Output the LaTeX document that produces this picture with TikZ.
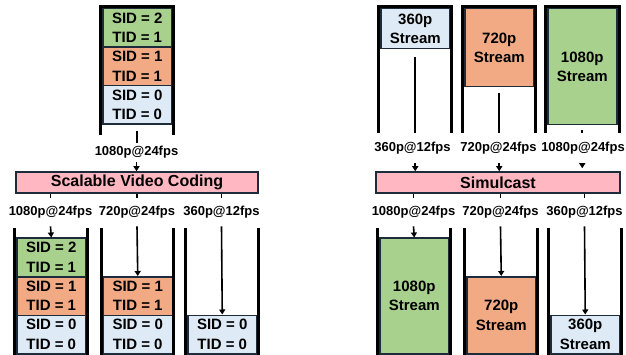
\documentclass[tikz,border=0pt]{standalone}
\usepackage{fontspec}
\setmainfont{Liberation Sans}
\usetikzlibrary{arrows.meta}
\definecolor{sgreen}{HTML}{A9D18E}
\definecolor{sorange}{HTML}{F2AA84}
\definecolor{sblue}{HTML}{DEEBF7}
\definecolor{spink}{HTML}{FFB7C1}
\definecolor{navy}{HTML}{1D2B3A}
\tikzset{
  blk/.style={draw=navy, line width=1.5pt, inner sep=0pt, align=center,
    anchor=north west, minimum width=69pt,
    font=\fontsize{15}{19.5}\selectfont\bfseries},
  codec/.style={draw=navy, line width=1.5pt, fill=spink, inner sep=0pt,
    minimum height=21pt, font=\fontsize{16}{18}\selectfont\bfseries},
  lbl/.style={inner xsep=0pt, inner ysep=8pt, text height=9.5pt, text depth=2.8pt,
    font=\fontsize{13}{15}\selectfont\bfseries},
  wall/.style={line width=3pt, black},
  conn/.style={line width=1.6pt, black},
  arr/.style={conn, -{Triangle[length=5pt,width=6pt]}},
}
\begin{document}
\begin{tikzpicture}[x=1pt, y=-1pt]
\useasboundingbox (0,0) rectangle (626,355);

% ---------------- Scalable Video Coding ----------------
% source stack
\node[blk, fill=sgreen,  minimum height=38.5pt] (s2) at (102,8)     {SID = 2\\TID = 1};
\node[blk, fill=sorange, minimum height=38.5pt] (s1) at (102,46.5)  {SID = 1\\TID = 1};
\node[blk, fill=sblue,   minimum height=38.5pt] (s0) at (102,85)    {SID = 0\\TID = 0};
\draw[wall] (100,135) -- (100,7) -- (173,7) -- (173,135);

\node[lbl, inner ysep=3pt] (sin) at (136.5,152.5) {1080p@24fps};
\node[codec, minimum width=242pt] (svc) at (137,182.5) {Scalable Video Coding};
\draw[conn, shorten <=6.5pt] (s0.south) -- (s0.south |- sin.north);
\draw[arr] (sin.south) -- (sin.south |- svc.north);

% received layers
\node[lbl] (o1) at (50.5,212)  {1080p@24fps};
\node[lbl] (o2) at (137,212)   {720p@24fps};
\node[lbl] (o3) at (221.5,212) {360p@12fps};

\node[blk, fill=sgreen,  minimum height=38.5pt] (a2) at (16,237.5)  {SID = 2\\TID = 1};
\node[blk, fill=sorange, minimum height=38.5pt] (a1) at (16,276)    {SID = 1\\TID = 1};
\node[blk, fill=sblue,   minimum height=38.5pt] (a0) at (16,314.5)  {SID = 0\\TID = 0};
\draw[wall] (14,228) -- (14,357);
\draw[wall] (87,228) -- (87,357);

\node[blk, fill=sorange, minimum height=38.5pt] (b1) at (102.5,276)   {SID = 1\\TID = 1};
\node[blk, fill=sblue,   minimum height=38.5pt] (b0) at (102.5,314.5) {SID = 0\\TID = 0};
\draw[wall] (101,228) -- (101,357);
\draw[wall] (173,228) -- (173,357);

\node[blk, fill=sblue, minimum height=38.5pt] (c0) at (187,314.5) {SID = 0\\TID = 0};
\draw[wall] (185,228) -- (185,357);
\draw[wall] (258,228) -- (258,357);

\foreach \o in {o1,o2,o3}
  \draw[conn] (svc.south -| \o.north) -- (\o.north);
\draw[arr] (o1.south) -- (a2.north);
\draw[arr] (o2.south) -- (b1.north);
\draw[arr] (o3.south) -- (c0.north);

% ---------------- Simulcast ----------------
\node[blk, fill=sblue,   minimum height=40pt]  (tA) at (380,8) {360p\\Stream};
\node[blk, fill=sorange, minimum height=78pt]  (tB) at (464,8) {720p\\Stream};
\node[blk, fill=sgreen,  minimum height=116pt] (tC) at (547,8) {1080p\\Stream};
\draw[wall] (378,133) -- (378,7) -- (451,7) -- (451,133);
\draw[wall] (462,133) -- (462,7) -- (535,7) -- (535,133);
\draw[wall] (545,133) -- (545,7) -- (619,7) -- (619,133);

\node[lbl, inner ysep=8.5pt] (iA) at (412.5,148) {360p@12fps};
\node[lbl, inner ysep=8.5pt] (iB) at (498.5,148) {720p@24fps};
\node[lbl, inner ysep=8.5pt] (iC) at (583,148)   {1080p@24fps};
\node[codec, minimum width=244pt] (sim) at (498,182.5) {Simulcast};

\draw[conn, shorten <=8pt] (tA.south) -- (tA.south |- iA.north);
\draw[conn, shorten <=6pt] (tB.south) -- (tB.south |- iB.north);
\draw[conn, shorten <=5pt] (tC.south) -- (tC.south |- iC.north);
\draw[arr] (tA.south |- iA.south) -- (tA.south |- sim.north);
\draw[arr] (tB.south |- iB.south) -- (tB.south |- sim.north);
\draw[arr, shorten >=3pt] (tC.south |- iC.south) -- (tC.south |- sim.north);

% received streams
\node[lbl] (r1) at (413.5,212) {1080p@24fps};
\node[lbl] (r2) at (500.5,212) {720p@24fps};
\node[lbl] (r3) at (584.5,212) {360p@12fps};

\node[blk, fill=sgreen,  minimum height=115.5pt] (rA) at (379,237.5) {1080p\\Stream};
\node[blk, fill=sorange, minimum height=77pt]    (rB) at (466,276)   {720p\\Stream};
\node[blk, fill=sblue,   minimum height=38.5pt]  (rC) at (550,314.5) {360p\\Stream};
\draw[wall] (377,228) -- (377,357);
\draw[wall] (450,228) -- (450,357);
\draw[wall] (464,228) -- (464,357);
\draw[wall] (537,228) -- (537,357);
\draw[wall] (548,228) -- (548,357);
\draw[wall] (621,228) -- (621,357);

\foreach \r in {r1,r2,r3}
  \draw[conn] (sim.south -| \r.north) -- (\r.north);
\draw[arr] (r1.south) -- (rA.north);
\draw[arr] (r2.south) -- (rB.north);
\draw[arr] (r3.south) -- (rC.north);
\end{tikzpicture}
\end{document}
